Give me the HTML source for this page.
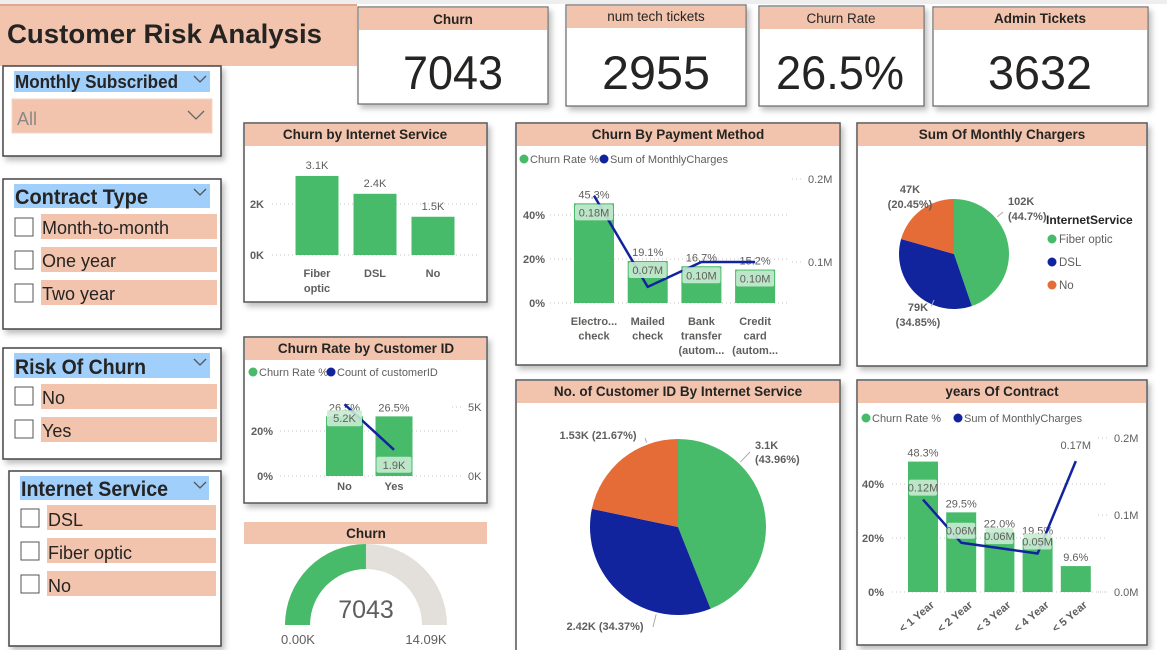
<!DOCTYPE html>
<html><head><meta charset="utf-8">
<style>
html,body{margin:0;padding:0;background:#fff;width:1167px;height:650px;overflow:hidden}
svg{display:block;font-family:"Liberation Sans",sans-serif}
.n{font-family:"Liberation Sans Narrow","Liberation Sans",sans-serif}
.hd{font-family:"Liberation Sans Narrow","Liberation Sans",sans-serif;font-weight:bold;font-size:13.5px;fill:#252423;text-anchor:middle}
.ax{font-size:11px;fill:#605e5c}
.axb{font-size:11px;fill:#605e5c;font-weight:bold}
.lb{font-size:11px;fill:#605e5c}
.grid{stroke:#c8c6c4;stroke-dasharray:1,3;stroke-width:1}
</style></head><body>
<svg id="dash" width="1167" height="650" viewBox="0 0 1167 650">
<defs>
<filter id="sh" x="-10%" y="-10%" width="130%" height="130%"><feDropShadow dx="3" dy="4" stdDeviation="3" flood-color="#000" flood-opacity="0.25"/></filter>
</defs>
<rect x="0" y="0" width="1167" height="650" fill="#fff"/>
<rect x="0" y="0" width="1167" height="4" fill="#eeeeee"/>

<g>
<rect x="0" y="5" width="357" height="61" fill="#f2c4ad"/>
<rect x="0" y="4" width="357" height="2" fill="#e0a88e"/>
<text x="7" y="43" font-size="27" font-weight="bold" fill="#252423" textLength="315" lengthAdjust="spacingAndGlyphs">Customer Risk Analysis</text>
</g>

<g filter="url(#sh)">
<rect x="358" y="7" width="190" height="97" fill="#fff" stroke="#666" stroke-width="1.2"/>
<rect x="359" y="8" width="188" height="22" fill="#f2c4ad"/>
</g>
<text x="453" y="24" class="hd" font-size="14">Churn</text>
<text x="453" y="89" font-size="47" fill="#252423" text-anchor="middle" textLength="100" lengthAdjust="spacingAndGlyphs">7043</text>

<g filter="url(#sh)">
<rect x="566" y="5" width="180" height="101" fill="#fff" stroke="#666" stroke-width="1.2"/>
<rect x="567" y="6" width="178" height="22" fill="#f2c4ad"/>
</g>
<text x="656" y="21" font-size="13.5" fill="#252423" text-anchor="middle" class="n">num tech tickets</text>
<text x="656" y="89" font-size="47" fill="#252423" text-anchor="middle" textLength="108" lengthAdjust="spacingAndGlyphs">2955</text>

<g filter="url(#sh)">
<rect x="759" y="6" width="165" height="100" fill="#fff" stroke="#666" stroke-width="1.2"/>
<rect x="760" y="7" width="163" height="22" fill="#f2c4ad"/>
</g>
<text x="841" y="23" font-size="13.5" fill="#252423" text-anchor="middle" class="n">Churn Rate</text>
<text x="840" y="89" font-size="47" fill="#252423" text-anchor="middle" textLength="128" lengthAdjust="spacingAndGlyphs">26.5%</text>

<g filter="url(#sh)">
<rect x="933" y="7" width="215" height="99" fill="#fff" stroke="#666" stroke-width="1.2"/>
<rect x="934" y="8" width="213" height="22" fill="#f2c4ad"/>
</g>
<text x="1040" y="23" class="hd" font-size="14">Admin Tickets</text>
<text x="1040" y="89" font-size="47" fill="#252423" text-anchor="middle" textLength="104" lengthAdjust="spacingAndGlyphs">3632</text>

<g>
<rect x="3" y="66" width="218" height="90" fill="#fff" stroke="#444" stroke-width="1.5" filter="url(#sh)"/>
<rect x="14" y="71" width="196" height="21" fill="#a0cffc"/>
<text x="15" y="88" font-size="18" font-weight="bold" class="n" fill="#252423" textLength="163" lengthAdjust="spacingAndGlyphs">Monthly Subscribed</text>
<path d="M194 76 l6 6 l6 -6" fill="none" stroke="#555" stroke-width="1.3"/>
<g>
<rect x="12" y="99" width="200" height="34" fill="#f2c4ad" stroke="#f6d6c6"/>
<text x="17" y="125" font-size="18" fill="#8a8886">All</text>
<path d="M188 111 l8 8 l8 -8" fill="none" stroke="#666" stroke-width="1.3"/>
</g>
</g>

<g>
<rect x="3" y="179" width="218" height="150" fill="#fff" stroke="#444" stroke-width="1.5" filter="url(#sh)"/>
<rect x="14" y="184" width="196" height="24" fill="#a0cffc"/>
<text x="15" y="204" font-size="21" font-weight="bold" class="n" fill="#252423" textLength="133" lengthAdjust="spacingAndGlyphs">Contract Type</text>
<path d="M194 189 l6 6 l6 -6" fill="none" stroke="#555" stroke-width="1.3"/>
<g><rect x="15" y="218" width="18" height="18" fill="#fff" stroke="#555"/><rect x="41" y="214" width="176" height="25" fill="#f2c4ad"/><text x="42" y="234" font-size="18" fill="#252423">Month-to-month</text></g>
<g><rect x="15" y="251" width="18" height="18" fill="#fff" stroke="#555"/><rect x="41" y="247" width="176" height="25" fill="#f2c4ad"/><text x="42" y="267" font-size="18" fill="#252423">One year</text></g>
<g><rect x="15" y="284" width="18" height="18" fill="#fff" stroke="#555"/><rect x="41" y="280" width="176" height="25" fill="#f2c4ad"/><text x="42" y="300" font-size="18" fill="#252423">Two year</text></g>
</g>

<g>
<rect x="3" y="348" width="218" height="111" fill="#fff" stroke="#444" stroke-width="1.5" filter="url(#sh)"/>
<rect x="14" y="353" width="196" height="25" fill="#a0cffc"/>
<text x="15" y="374" font-size="21" font-weight="bold" class="n" fill="#252423" textLength="131" lengthAdjust="spacingAndGlyphs">Risk Of Churn</text>
<path d="M194 359 l6 6 l6 -6" fill="none" stroke="#555" stroke-width="1.3"/>
<g><rect x="15" y="387" width="18" height="18" fill="#fff" stroke="#555"/><rect x="41" y="384" width="176" height="25" fill="#f2c4ad"/><text x="42" y="404" font-size="18" fill="#252423">No</text></g>
<g><rect x="15" y="420" width="18" height="18" fill="#fff" stroke="#555"/><rect x="41" y="417" width="176" height="25" fill="#f2c4ad"/><text x="42" y="437" font-size="18" fill="#252423">Yes</text></g>
</g>

<g>
<rect x="9" y="471" width="212" height="175" fill="#fff" stroke="#444" stroke-width="1.5" filter="url(#sh)"/>
<rect x="20" y="476" width="189" height="24" fill="#a0cffc"/>
<text x="21" y="496" font-size="21" font-weight="bold" class="n" fill="#252423" textLength="147" lengthAdjust="spacingAndGlyphs">Internet Service</text>
<path d="M194 482 l6 6 l6 -6" fill="none" stroke="#555" stroke-width="1.3"/>
<g><rect x="21" y="509" width="18" height="18" fill="#fff" stroke="#555"/><rect x="47" y="505" width="169" height="25" fill="#f2c4ad"/><text x="48" y="526" font-size="18" fill="#252423">DSL</text></g>
<g><rect x="21" y="542" width="18" height="18" fill="#fff" stroke="#555"/><rect x="47" y="538" width="169" height="25" fill="#f2c4ad"/><text x="48" y="559" font-size="18" fill="#252423">Fiber optic</text></g>
<g><rect x="21" y="575" width="18" height="18" fill="#fff" stroke="#555"/><rect x="47" y="571" width="169" height="25" fill="#f2c4ad"/><text x="48" y="592" font-size="18" fill="#252423">No</text></g>
</g>

<g>
<rect x="244" y="123" width="243" height="179" fill="#fff" stroke="#555" stroke-width="1.5" filter="url(#sh)"/>
<rect x="245" y="124" width="241" height="22" fill="#f2c4ad"/>
<text x="365" y="139" class="hd">Churn by Internet Service</text>
</g>
<g>
<rect x="516" y="123" width="324" height="242" fill="#fff" stroke="#555" stroke-width="1.5" filter="url(#sh)"/>
<rect x="517" y="124" width="322" height="22" fill="#f2c4ad"/>
<text x="678" y="139" class="hd">Churn By Payment Method</text>
</g>
<g>
<rect x="857" y="123" width="290" height="243" fill="#fff" stroke="#555" stroke-width="1.5" filter="url(#sh)"/>
<rect x="858" y="124" width="288" height="22" fill="#f2c4ad"/>
<text x="1002" y="139" class="hd">Sum Of Monthly Chargers</text>
</g>
<g>
<rect x="244" y="337" width="243" height="166" fill="#fff" stroke="#555" stroke-width="1.5" filter="url(#sh)"/>
<rect x="245" y="338" width="241" height="22" fill="#f2c4ad"/>
<text x="366" y="353" class="hd">Churn Rate by Customer ID</text>
</g>
<g>
<rect x="516" y="380" width="324" height="275" fill="#fff" stroke="#555" stroke-width="1.5" filter="url(#sh)"/>
<rect x="517" y="381" width="322" height="22" fill="#f2c4ad"/>
<text x="678" y="396" class="hd">No. of Customer ID By Internet Service</text>
</g>
<g>
<rect x="857" y="380" width="290" height="265" fill="#fff" stroke="#555" stroke-width="1.5" filter="url(#sh)"/>
<rect x="858" y="381" width="288" height="22" fill="#f2c4ad"/>
<text x="1002" y="396" class="hd">years Of Contract</text>
</g>
<g>
<rect x="244" y="522" width="243" height="22" fill="#f2c4ad"/>
<text x="366" y="538" class="hd">Churn</text>
</g>

<g id="marks"></g>
</svg>

<script>
// ---- data ----
const inetCats = ['Fiber optic', 'DSL', 'No'];
const inetChurn = [3.1, 2.4, 1.5];
const inetTicks = [0, 2];

const payCats = [['Electro...', 'check'], ['Mailed', 'check'], ['Bank', 'transfer', '(autom...'], ['Credit', 'card', '(autom...']];
const payRate = [45.3, 19.1, 16.7, 15.2];
const payCharges = [0.18, 0.07, 0.10, 0.10];
const payLeftTicks = [0, 20, 40];
const payRightTicks = [0.1, 0.2];

const cidCats = ['No', 'Yes'];
const cidRate = [26.5, 26.5];
const cidCount = [5.2, 1.9];
const cidLeftTicks = [0, 20];
const cidRightTicks = [0, 5];

const yrCats = ['< 1 Year', '< 2 Year', '< 3 Year', '< 4 Year', '< 5 Year'];
const yrRate = [48.3, 29.5, 22.0, 19.5, 9.6];
const yrCharges = [0.12, 0.064, 0.057, 0.05, 0.17];
const yrLeftTicks = [0, 20, 40];
const yrRightTicks = [0.0, 0.1, 0.2];

const svcNames = ['Fiber optic', 'DSL', 'No'];
const monthlySums = [102, 79, 47];
const monthlyLabels = [['102K', '(44.7%)'], ['79K', '(34.85%)'], ['47K', '(20.45%)']];
const custCounts = [3.1, 2.42, 1.53];
const custLabels = [['3.1K', '(43.96%)'], ['2.42K (34.37%)'], ['1.53K (21.67%)']];

const gaugeValue = 7043;
const gaugeMax = 14090;

const GREEN = '#47bb6a', BLUE = '#12239e', ORANGE = '#e66c37';
const NS = 'http://www.w3.org/2000/svg';
const root = document.getElementById('marks');
function el(tag, attrs, txt) {
  const e = document.createElementNS(NS, tag);
  for (const k in attrs) e.setAttribute(k, attrs[k]);
  if (txt !== undefined) e.textContent = txt;
  root.appendChild(e);
  return e;
}

(function () {
  const y = v => 255 - v * 25.5;
  const x = i => 317 + i * 58;
  inetTicks.forEach(t => {
    const g = el('line', {x1: 272, x2: 478, y1: y(t), y2: y(t), class: 'grid'});
    
    
    const tl = el('text', {x: 264, y: y(t) + 4, class: 'axb', 'text-anchor': 'end'}, t + 'K');
    
    
  });
  inetCats.forEach((c, i) => {
    const b = el('rect', {x: x(i) - 21.5, y: y(inetChurn[i]), width: 43, height: y(0) - y(inetChurn[i]), fill: GREEN});
    
    
    const l = el('text', {x: x(i), y: y(inetChurn[i]) - 7, class: 'lb', 'text-anchor': 'middle'}, inetChurn[i].toFixed(1) + 'K');
    
    
    const parts = c === 'Fiber optic' ? ['Fiber', 'optic'] : [c];
    parts.forEach((p, j) => {
      const t = el('text', {x: x(i), y: 277 + j * 15, class: 'axb', 'text-anchor': 'middle'}, p);
      
      
    });
  });
})();

function legend(xs, yy, items) {
  let cx = xs;
  items.forEach(it => {
    const d = el('circle', {cx: cx + 4, cy: yy - 4, r: 4.5, fill: it[1]});
    
    
    const t = el('text', {x: cx + 10, y: yy, 'font-size': 11, fill: '#605e5c'}, it[0]);
    
    
    cx += 12 + it[2];
  });
}

function combo(cfg) {
  const {cats, rate, vals, yL, yR, x, bw, gx1, gx2, lt, rt, lx, rx, rfmt, pfx} = cfg;
  lt.forEach(t => {
    const g = el('line', {x1: gx1, x2: gx2, y1: yL(t), y2: yL(t), class: 'grid'});
    
    
    const tl = el('text', {x: lx, y: yL(t) + 4, class: 'axb', 'text-anchor': 'end'}, t + '%');
    
    
  });
  rt.forEach(t => {
    const g = el('line', {x1: rx - 16, x2: rx - 6, y1: yR(t), y2: yR(t), class: 'grid'});
    
    
    const tl = el('text', {x: rx, y: yR(t) + 4, class: 'ax'}, rfmt(t));
    
    
  });
  cats.forEach((c, i) => {
    const b = el('rect', {x: x(i) - bw / 2, y: yL(rate[i]), width: bw, height: yL(0) - yL(rate[i]), fill: GREEN});
    
    
    const l = el('text', {x: x(i), y: yL(rate[i]) - 5, class: 'lb', 'text-anchor': 'middle'}, rate[i].toFixed(1) + '%');
    
    
  });
  const pts = vals.map((v, i) => x(i) + ',' + yR(v)).join(' ');
  const ln = el('polyline', {points: pts, fill: 'none', stroke: BLUE, 'stroke-width': 2.5, 'stroke-linejoin': 'round'});
  
  
  cats.forEach((c, i) => {
    const cy = cfg.boxY(i);
    if (cy === null) return;
    const r = el('rect', {x: x(i) - bw / 2 + 1, y: cy - 8, width: bw - 2, height: 16, fill: '#c8ebd2', opacity: 0.9, rx: 2});
    
    
    const t = el('text', {x: x(i), y: cy + 4, class: 'lb', 'text-anchor': 'middle'}, cfg.vfmt(vals[i]));
    
    
  });
}

legend(520, 163, [['Churn Rate %', GREEN, 68], ['Sum of MonthlyCharges', BLUE, 125]]);
(function () {
  const yL = v => 303 - v * 2.2;
  const yR = v => 345 - v * 830;
  const x = i => 594 + i * 53.7;
  combo({cats: payCats, rate: payRate, vals: payCharges, yL, yR, x, bw: 40, gx1: 550, gx2: 790,
    lt: payLeftTicks, rt: payRightTicks, lx: 545, rx: 808, rfmt: t => t.toFixed(1) + 'M', pfx: 'payment',
    boxY: i => yL(payRate[i]) + 9, vfmt: v => v.toFixed(2) + 'M'});
  payCats.forEach((c, i) => c.forEach((p, j) => {
    const t = el('text', {x: x(i), y: 325 + j * 14.5, class: 'axb', 'text-anchor': 'middle'}, p);
    
    
  }));
})();

legend(249, 376, [['Churn Rate %', GREEN, 66], ['Count of customerID', BLUE, 105]]);
(function () {
  const yL = v => 476 - v * 2.25;
  const yR = v => 476 - v * 13.8;
  const x = i => 344.5 + i * 49.5;
  combo({cats: cidCats, rate: cidRate, vals: cidCount, yL, yR, x, bw: 37, gx1: 280, gx2: 460,
    lt: cidLeftTicks, rt: cidRightTicks, lx: 273, rx: 468, rfmt: t => t + 'K', pfx: 'customer',
    boxY: i => i === 0 ? yR(cidCount[i]) + 14 : yR(cidCount[i]) + 15, vfmt: v => v.toFixed(1) + 'K'});
  cidCats.forEach((c, i) => {
    const t = el('text', {x: x(i), y: 490, class: 'axb', 'text-anchor': 'middle'}, c);
    
    
  });
})();

legend(862, 422, [['Churn Rate %', GREEN, 80], ['Sum of MonthlyCharges', BLUE, 130]]);
(function () {
  const yL = v => 592 - v * 2.7;
  const yR = v => 592 - v * 770;
  const x = i => 923 + i * 38.2;
  combo({cats: yrCats, rate: yrRate, vals: yrCharges, yL, yR, x, bw: 30, gx1: 892, gx2: 1105,
    lt: yrLeftTicks, rt: yrRightTicks, lx: 884, rx: 1114, rfmt: t => t.toFixed(1) + 'M', pfx: 'years',
    boxY: i => {
      if (yrCharges[i] > 0.15) return null;
      const above = yR(yrCharges[i]) - 12;
      return (above - 8 < yL(yrRate[i]) - 6 && above > yL(yrRate[i]) - 20) ? yR(yrCharges[i]) + 14 : above;
    }, vfmt: v => v.toFixed(2) + 'M'});
  yrCharges.forEach((v, i) => {
    if (v > 0.15) {
      const t = el('text', {x: x(i), y: yR(v) - 12, class: 'lb', 'text-anchor': 'middle'}, v.toFixed(2) + 'M');
      
      
    }
  });
  yrCats.forEach((c, i) => {
    const t = el('text', {x: x(i) + 12, y: 606, class: 'axb', 'text-anchor': 'end', transform: 'rotate(-40 ' + (x(i) + 12) + ' 606)'}, c);
    
    
  });
})();

function pie(cx, cy, r, vals, pfx) {
  const tot = vals.reduce((a, b) => a + b, 0);
  const colors = [GREEN, BLUE, ORANGE];
  let a0 = -Math.PI / 2;
  vals.forEach((v, i) => {
    const a1 = a0 + v / tot * 2 * Math.PI;
    const big = (a1 - a0) > Math.PI ? 1 : 0;
    const d = 'M' + cx + ',' + cy + ' L' + (cx + r * Math.cos(a0)) + ',' + (cy + r * Math.sin(a0)) +
      ' A' + r + ',' + r + ' 0 ' + big + ' 1 ' + (cx + r * Math.cos(a1)) + ',' + (cy + r * Math.sin(a1)) + ' Z';
    const p = el('path', {d: d, fill: colors[i]});
    
    
    a0 = a1;
  });
}
function leader(cx, cy, r, tx, ty, name) {
  const a = Math.atan2(ty - cy, tx - cx);
  const ex = cx + (r + 2) * Math.cos(a), ey = cy + (r + 2) * Math.sin(a);
  const ln = el('polyline', {points: ex + ',' + ey + ' ' + tx + ',' + ty, fill: 'none', stroke: '#aaa'});
  
  
}
(function () {
  const cx = 954, cy = 254, r = 55;
  pie(cx, cy, r, monthlySums, 'monthly');
  const pos = [[1008, 205, 'start'], [918, 311, 'middle'], [910, 193, 'middle']];
  const lp = [[1003, 212], [934, 300], [925, 200]];
  monthlyLabels.forEach((lab, i) => {
    leader(cx, cy, r, lp[i][0], lp[i][1], 'monthly-leader-line');
    lab.forEach((s, j) => {
      const t = el('text', {x: pos[i][0], y: pos[i][1] + j * 15, 'font-size': 11, 'font-weight': 'bold', fill: '#605e5c', 'text-anchor': pos[i][2]}, s);
      
      
    });
  });
  const lt = el('text', {x: 1046, y: 224, 'font-size': 12, 'font-weight': 'bold', fill: '#252423'}, 'InternetService');
  
  
  svcNames.forEach((s, i) => {
    const c = el('circle', {cx: 1052, cy: 239 + i * 23, r: 4.5, fill: [GREEN, BLUE, ORANGE][i]});
    
    
    const t = el('text', {x: 1059, y: 243 + i * 23, 'font-size': 11.5, fill: '#605e5c'}, s);
    
    
  });
})();
(function () {
  const cx = 678, cy = 527, r = 88;
  pie(cx, cy, r, custCounts, 'customer-pie');
  const pos = [[755, 449, 'start'], [605, 630, 'middle'], [598, 439, 'middle']];
  const lp = [[750, 452], [653, 627], [645, 438]];
  custLabels.forEach((lab, i) => {
    leader(cx, cy, r, lp[i][0], lp[i][1], 'customer-pie-leader-line');
    lab.forEach((s, j) => {
      const t = el('text', {x: pos[i][0], y: pos[i][1] + j * 14, 'font-size': 11, 'font-weight': 'bold', fill: '#605e5c', 'text-anchor': pos[i][2]}, s);
      
      
    });
  });
})();

(function () {
  const cx = 366, cy = 625, ro = 81, ri = 56;
  function arc(f0, f1) {
    const a0 = Math.PI * (1 + f0), a1 = Math.PI * (1 + f1);
    return 'M' + (cx + ro * Math.cos(a0)) + ',' + (cy + ro * Math.sin(a0)) +
      ' A' + ro + ',' + ro + ' 0 0 1 ' + (cx + ro * Math.cos(a1)) + ',' + (cy + ro * Math.sin(a1)) +
      ' L' + (cx + ri * Math.cos(a1)) + ',' + (cy + ri * Math.sin(a1)) +
      ' A' + ri + ',' + ri + ' 0 0 0 ' + (cx + ri * Math.cos(a0)) + ',' + (cy + ri * Math.sin(a0)) + ' Z';
  }
  const f = gaugeValue / gaugeMax;
  const bg = el('path', {d: arc(0, 1), fill: '#e3dfda'});
  
  
  const fg = el('path', {d: arc(0, f), fill: GREEN});
  
  
  const v = el('text', {x: cx, y: 618, 'font-size': 25, fill: '#605e5c', 'text-anchor': 'middle', class: 'n'}, String(gaugeValue));
  
  
  const mn = el('text', {x: cx - 68, y: 644, 'font-size': 13, fill: '#605e5c', 'text-anchor': 'middle'}, '0.00K');
  
  
  const mx = el('text', {x: cx + 60, y: 644, 'font-size': 13, fill: '#605e5c', 'text-anchor': 'middle'}, (gaugeMax / 1000).toFixed(2) + 'K');
  
  
})();
</script>
</body></html>
